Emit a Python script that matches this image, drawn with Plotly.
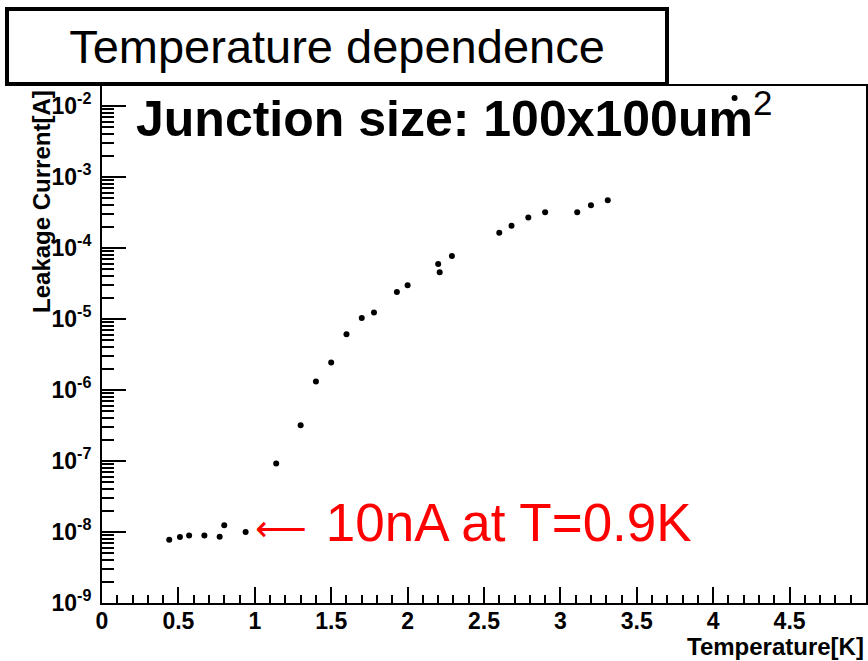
import plotly.graph_objects as go

temperature_K = [0.44, 0.51, 0.57, 0.67, 0.77, 0.80, 0.94, 1.14, 1.30, 1.40, 1.50,
                 1.60, 1.70, 1.78, 1.93, 2.00, 2.20, 2.21, 2.29, 2.60, 2.68, 2.79,
                 2.90, 3.11, 3.20, 3.31, 4.14]
leakage_A = [7.8e-9, 8.5e-9, 8.9e-9, 8.9e-9, 8.6e-9, 1.24e-8, 1.0e-8, 9.2e-8, 3.2e-7,
             1.32e-6, 2.45e-6, 6.1e-6, 1.03e-5, 1.24e-5, 2.4e-5, 3.0e-5, 5.95e-5,
             4.55e-5, 7.7e-5, 1.64e-4, 2.06e-4, 2.68e-4, 3.19e-4, 3.19e-4, 4.0e-4,
             4.7e-4, 1.30e-2]

y_exponents = [-9, -8, -7, -6, -5, -4, -3, -2]
y_tickvals = [10.0 ** e for e in y_exponents]
y_ticktext = ["10<sup>%d</sup>" % e for e in y_exponents]
y_minor = [k * 10.0 ** e for e in y_exponents for k in range(2, 10)]

FONT = "Liberation Sans, Arial, Helvetica, sans-serif"

fig = go.Figure()
fig.add_trace(go.Scatter(
    x=temperature_K, y=leakage_A, mode="markers",
    marker=dict(color="black", size=6, symbol="circle"),
    showlegend=False,
))

fig.update_layout(
    width=868, height=661,
    margin=dict(l=102, r=2, t=86, b=58),
    paper_bgcolor="white", plot_bgcolor="white",
    font=dict(family=FONT, color="black"),
)

fig.update_xaxes(
    range=[0, 5], dtick=0.5, tick0=0,
    showgrid=False, zeroline=False,
    showline=True, linecolor="black", linewidth=2, mirror=True,
    ticks="inside", ticklen=16, tickwidth=1.5, tickcolor="black",
    minor=dict(dtick=0.1, ticks="inside", ticklen=8, tickwidth=1.5, tickcolor="black", showgrid=False),
    tickfont=dict(family=FONT, size=23, color="black", weight="bold"),
    ticklabelstandoff=-4,
    automargin=False,
)
fig.update_yaxes(
    type="log", range=[-9, -1.718],
    tickmode="array", tickvals=y_tickvals, ticktext=y_ticktext,
    showgrid=False, zeroline=False,
    showline=True, linecolor="black", linewidth=2, mirror=True,
    ticks="inside", ticklen=24, tickwidth=1.5, tickcolor="black",
    minor=dict(tickvals=y_minor, ticks="inside", ticklen=12, tickwidth=1.5, tickcolor="black", showgrid=False),
    tickfont=dict(family=FONT, size=23, color="black", weight="bold"),
    ticklabelstandoff=4,
    automargin=False,
)

# axis titles
fig.add_annotation(
    text="Temperature[K]", xref="paper", yref="paper", x=1.0, y=-0.085,
    xanchor="right", yanchor="middle", showarrow=False,
    font=dict(family=FONT, size=24, color="black", weight="bold"),
)
fig.add_annotation(
    text="Leakage Current[A]", xref="paper", yref="paper", x=-0.079, y=0.777,
    xanchor="center", yanchor="middle", textangle=-90, showarrow=False,
    font=dict(family=FONT, size=24, color="black", weight="bold"),
)

# boxed title
fig.add_annotation(
    text="Temperature dependence", xref="paper", yref="paper",
    x=-0.127, y=1.153, xanchor="left", yanchor="top",
    width=656, height=71, align="center", valign="middle",
    bordercolor="black", borderwidth=4, borderpad=0, bgcolor="white",
    showarrow=False, font=dict(family=FONT, size=47, color="black"),
)

fig.add_annotation(
    text="Junction size: 100x100um<sup><span style=\"font-weight:normal\">2</span></sup>",
    xref="paper", yref="paper",
    x=(134 - 102) / 764, y=(603 - 115) / 517, xanchor="left", yanchor="middle",
    showarrow=False, font=dict(family=FONT, size=50, color="black", weight="bold"),
)

fig.add_annotation(
    text="<span style=\"font-family:'DejaVu Sans';font-size:36px\">\u27F5</span> \u200A10nA at T=0.9K",
    x=1.0, y=-8, xref="x", yref="y",
    xanchor="left", yanchor="middle", yshift=10, xshift=-2, showarrow=False,
    font=dict(family=FONT, size=53, color="#ff0000"),
)

fig.write_html("out.html")
